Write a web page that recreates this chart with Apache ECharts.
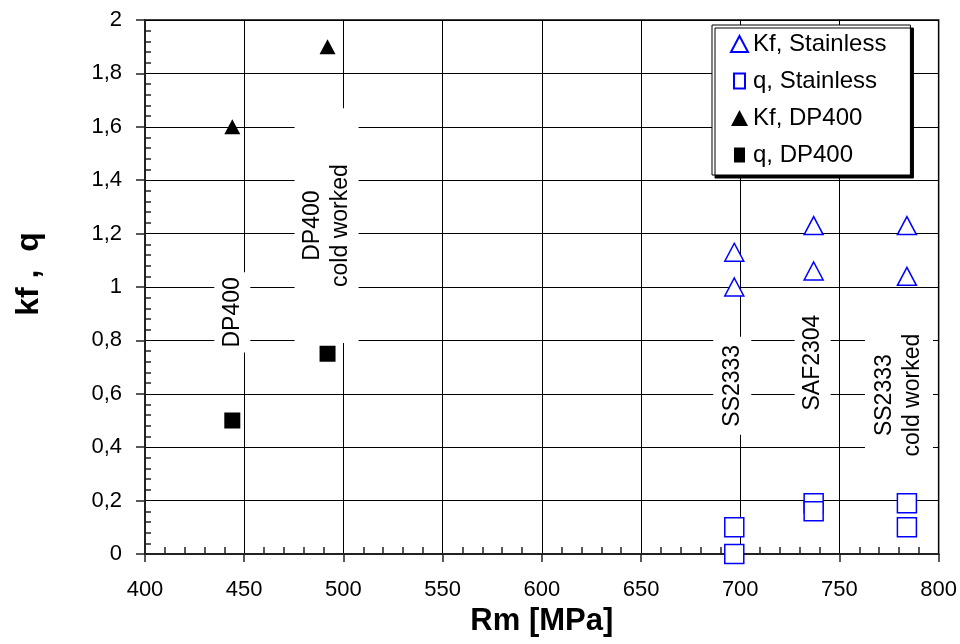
<!DOCTYPE html>
<html>
<head>
<meta charset="utf-8">
<script src="https://cdn.jsdelivr.net/npm/echarts@6/dist/echarts.min.js"></script>
<style>
  html, body { margin: 0; padding: 0; background: #fff; }
  #chart { width: 960px; height: 644px; }
</style>
</head>
<body>
<div id="chart"></div>
<script>
// Fatigue notch factor Kf and notch sensitivity q versus tensile strength Rm
const kfStainless = [[697, 1.13], [697, 1.00], [737, 1.23], [737, 1.06], [784, 1.23], [784, 1.04]];
const qStainless  = [[697, 0.10], [697, 0.00], [737, 0.19], [737, 0.16], [784, 0.19], [784, 0.10]];
const kfDP400     = [[444, 1.60], [492, 1.90]];
const qDP400      = [[444, 0.50], [492, 0.75]];

// Material names written beside each group of points (anchor in data units)
const materialNames  = ['DP400', 'DP400\ncold worked', 'SS2333', 'SAF2304', 'SS2333\ncold worked'];
const materialAnchor = [[444, 0.905], [491.5, 1.23], [696, 0.63], [736.5, 0.717], [780, 0.595]];

const seriesNames = ['Kf, Stainless', 'q, Stainless', 'Kf, DP400', 'q, DP400'];

const X_MIN = 400, X_MAX = 800, X_STEP = 50;
const Y_MIN = 0, Y_MAX = 2, Y_STEP = 0.2;

const FONT = '"Liberation Sans", Arial, Helvetica, sans-serif';
const BLUE = '#0000ff';

// white boxes behind the rotated names: [across, along] padding in px
const boxPad = [[4, 5], [4, 56], [5, 8], [4, 5], [6, 6]];

// legend square: a tall box inside the same 17x16 frame as the triangle
const SQUARE_ICON = 'path://M0,0M17,16M3,0.5h11v15h-11z';

const chart = echarts.init(document.getElementById('chart'), null, { renderer: 'canvas' });

const labelSeries = {
  type: 'scatter',
  silent: true,
  symbolSize: 0,
  z: 3,
  itemStyle: { opacity: 1 },
  data: materialNames.map((n, i) => ({
    name: n,
    value: materialAnchor[i],
    label: {
      padding: [boxPad[i][0], boxPad[i][1], boxPad[i][0], boxPad[i][1]]
    }
  })),
  label: {
    show: true,
    position: 'inside',
    rotate: 90,
    formatter: p => p.name,
    color: '#000',
    opacity: 1,
    fontFamily: FONT,
    fontSize: 23,
    lineHeight: 28,
    align: 'center',
    verticalAlign: 'middle',
    backgroundColor: '#fff'
  },
  emphasis: { disabled: true },
  tooltip: { show: false }
};

const hollow = { color: '#fff', borderColor: BLUE, borderWidth: 1.5, opacity: 1 };
const solid = { color: '#000', borderColor: '#000', borderWidth: 0, opacity: 1 };

chart.setOption({
  animation: false,
  backgroundColor: '#fff',
  textStyle: { fontFamily: FONT },
  grid: {
    left: 145, right: 21, top: 20, bottom: 90,
    show: true, borderColor: '#000', borderWidth: 1.5, backgroundColor: 'transparent'
  },
  legend: {
    orient: 'vertical',
    left: 712, top: 25,
    padding: [7, 24, 8, 18],
    itemWidth: 17, itemHeight: 16, itemGap: 13,
    backgroundColor: '#fff',
    borderColor: '#000', borderWidth: 1,
    shadowColor: '#000', shadowBlur: 0, shadowOffsetX: 3, shadowOffsetY: 3,
    textStyle: { fontFamily: FONT, fontSize: 24, color: '#000' },
    data: [
      { name: seriesNames[0] },
      { name: seriesNames[1], icon: SQUARE_ICON },
      { name: seriesNames[2] },
      { name: seriesNames[3], icon: SQUARE_ICON }
    ]
  },
  xAxis: {
    type: 'value',
    min: X_MIN, max: X_MAX, interval: X_STEP,
    name: 'Rm [MPa]',
    nameLocation: 'middle',
    nameGap: 50,
    nameTextStyle: { fontFamily: FONT, fontSize: 31, fontWeight: 'bold', color: '#000' },
    axisLine: { show: true, onZero: false, lineStyle: { color: '#222', width: 2 } },
    axisTick: { show: true, inside: false, length: 8, lineStyle: { color: '#222', width: 1.5 } },
    minorTick: { show: true, splitNumber: 5, length: -7, lineStyle: { color: '#222', width: 1.5 } },
    axisLabel: { fontFamily: FONT, fontSize: 22, color: '#000', margin: 25 },
    splitLine: { show: true, lineStyle: { color: '#000', width: 1 } }
  },
  yAxis: {
    type: 'value',
    min: Y_MIN, max: Y_MAX, interval: Y_STEP,
    name: 'kf ,  q',
    nameLocation: 'middle',
    nameGap: 100,
    nameTextStyle: { fontFamily: FONT, fontSize: 32, fontWeight: 'bold', color: '#000', padding: [0, 0, 0, 26] },
    axisLine: { show: true, onZero: false, lineStyle: { color: '#222', width: 2 } },
    axisTick: { show: true, inside: false, length: 9, lineStyle: { color: '#222', width: 1.5 } },
    minorTick: { show: true, splitNumber: 5, length: -6, lineStyle: { color: '#222', width: 1.5 } },
    axisLabel: {
      fontFamily: FONT, fontSize: 22, color: '#000', margin: 23,
      formatter: v => String(Math.round(v * 10) / 10).replace('.', ',')
    },
    splitLine: { show: true, lineStyle: { color: '#000', width: 1 } }
  },
  series: [
    labelSeries,
    { name: seriesNames[0], type: 'scatter', z: 5, symbol: 'triangle', symbolSize: [19, 18], itemStyle: hollow, data: kfStainless },
    { name: seriesNames[1], type: 'scatter', z: 5, symbol: 'rect', symbolSize: 19, itemStyle: hollow, data: qStainless },
    { name: seriesNames[2], type: 'scatter', z: 5, symbol: 'triangle', symbolSize: [16, 15], itemStyle: solid, data: kfDP400 },
    { name: seriesNames[3], type: 'scatter', z: 5, symbol: 'rect', symbolSize: 16, itemStyle: solid, data: qDP400 }
  ]
});
</script>
</body>
</html>
